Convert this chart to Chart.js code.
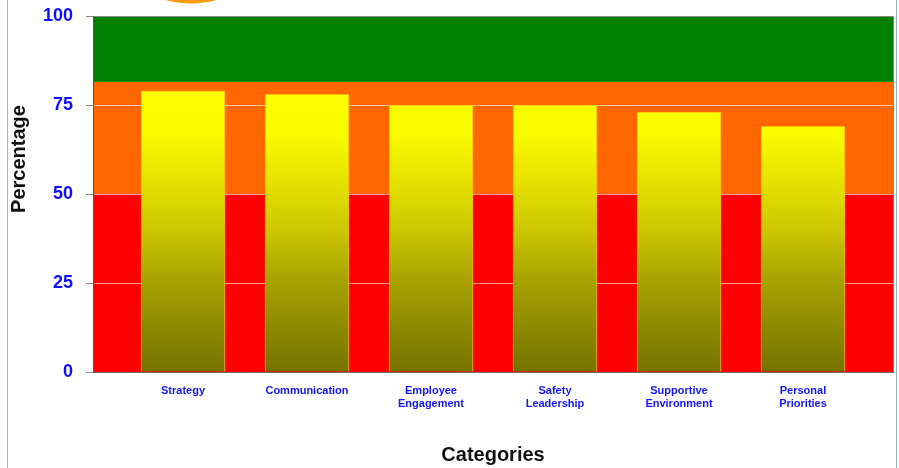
<!DOCTYPE html>
<html>
<head>
<meta charset="utf-8">
<script src="https://cdn.jsdelivr.net/npm/chart.js@4/dist/chart.umd.min.js"></script>
<style>
  html, body { margin: 0; padding: 0; background: #ffffff; }
  #wrap { width: 899px; height: 468px; position: relative; }
</style>
</head>
<body>
<div id="wrap"><canvas id="c" width="899" height="468"></canvas></div>
<script>
// ---- data ----
const categories = [
  ['Strategy'],
  ['Communication'],
  ['Employee', 'Engagement'],
  ['Safety', 'Leadership'],
  ['Supportive', 'Environment'],
  ['Personal', 'Priorities']
];
const percentages = [79, 78, 75, 75, 73, 69];
const yTickValues = [0, 25, 50, 75, 100];
const bandLimits = [0, 50, 81.5, 100];
const bandColors = ['#ff0000', '#ff6600', '#008000'];
const xTitle = 'Categories';
const yTitle = 'Percentage';

const FONT = '"Liberation Sans", Arial, Helvetica, sans-serif';

const bandsPlugin = {
  id: 'bands',
  beforeDraw(chart) {
    const { ctx, chartArea, scales } = chart;
    const y = scales.y;
    ctx.save();
    for (let i = 0; i < bandColors.length; i++) {
      const top = y.getPixelForValue(bandLimits[i + 1]);
      const bot = y.getPixelForValue(bandLimits[i]);
      ctx.fillStyle = bandColors[i];
      ctx.fillRect(chartArea.left, top, chartArea.right - chartArea.left, bot - top);
    }
    // decorative orange disc peeking in at the top
    ctx.fillStyle = '#ff9a0e';
    ctx.beginPath();
    ctx.arc(191, -90, 93.5, 0, Math.PI * 2);
    ctx.fill();
    ctx.restore();
  },
  afterDraw(chart) {
    const { ctx, chartArea } = chart;
    ctx.save();
    ctx.strokeStyle = '#8a8a8a';
    ctx.lineWidth = 1;
    ctx.beginPath();
    ctx.moveTo(chartArea.right + 0.5, chartArea.top);
    ctx.lineTo(chartArea.right + 0.5, chartArea.bottom);
    ctx.stroke();
    ctx.strokeStyle = '#8fb8d0';
    ctx.beginPath();
    ctx.moveTo(7.5, 0); ctx.lineTo(7.5, 468);
    ctx.moveTo(896.5, 0); ctx.lineTo(896.5, 468);
    ctx.stroke();
    ctx.translate(19, 159);
    ctx.rotate(-Math.PI / 2);
    ctx.fillStyle = '#111111';
    ctx.font = 'bold 20px ' + FONT;
    ctx.textAlign = 'center';
    ctx.textBaseline = 'middle';
    ctx.fillText(yTitle, 0, 0);
    ctx.restore();
  }
};

function barGradient(context) {
  const chart = context.chart;
  const { ctx, chartArea, scales } = chart;
  if (!chartArea || !scales.y) return '#ffff00';
  const y0 = scales.y.getPixelForValue(0);
  const y1 = scales.y.getPixelForValue(Math.max(...percentages));
  const g = ctx.createLinearGradient(0, y0, 0, y1);
  g.addColorStop(0, '#757200');
  g.addColorStop(0.33, '#a8a300');
  g.addColorStop(0.5, '#cbc600');
  g.addColorStop(0.68, '#e6e200');
  g.addColorStop(0.84, '#fafa00');
  g.addColorStop(1, '#ffff00');
  return g;
}

new Chart(document.getElementById('c'), {
  type: 'bar',
  data: {
    datasets: [{
      data: percentages.map((v, i) => ({ x: i, y: v })),
      backgroundColor: barGradient,
      borderColor: 'rgba(255,200,0,0.85)',
      borderWidth: 1,
      barThickness: 84
    }]
  },
  plugins: [bandsPlugin],
  options: {
    responsive: false,
    devicePixelRatio: 1,
    animation: false,
    layout: { padding: { top: 16, right: 6, left: 0, bottom: 0 } },
    plugins: {
      legend: { display: false },
      tooltip: { enabled: false }
    },
    scales: {
      x: {
        type: 'linear',
        offset: false,
        min: -0.7258,
        max: 5.7258,
        afterBuildTicks: (s) => { s.ticks = categories.map((_, i) => ({ value: i })); },
        afterFit: (s) => { s.height = 96; s.paddingLeft = 0; s.paddingRight = 0; },
        grid: { display: false, offset: false, drawTicks: false },
        border: { display: true, color: '#6e6e6e', width: 1 },
        ticks: {
          autoSkip: false,
          maxRotation: 0,
          padding: 12,
          color: '#1414ff',
          font: { family: FONT, size: 11, weight: 'bold', lineHeight: 1.2 },
          callback: (v) => categories[v] || ''
        },
        title: {
          display: true,
          text: xTitle,
          color: '#111111',
          font: { family: FONT, size: 20, weight: 'bold' },
          padding: { top: 0, bottom: 1 }
        }
      },
      y: {
        min: 0,
        max: 100,
        afterBuildTicks: (s) => { s.ticks = yTickValues.map(v => ({ value: v })); },
        afterFit: (s) => { s.width = 93; s.paddingTop = 0; s.paddingBottom = 0; },
        grid: {
          color: (c) => (c.tick && c.tick.value === 100) ? '#8a8a8a' : 'rgba(255,255,255,0.6)',
          tickColor: '#8a8a8a',
          tickLength: 7,
          drawTicks: true
        },
        border: { display: true, color: '#555555', width: 1 },
        ticks: {
          padding: 13,
          color: '#0f0fff',
          font: { family: FONT, size: 18, weight: 'bold' }
        }
      }
    }
  }
});
</script>
</body>
</html>
